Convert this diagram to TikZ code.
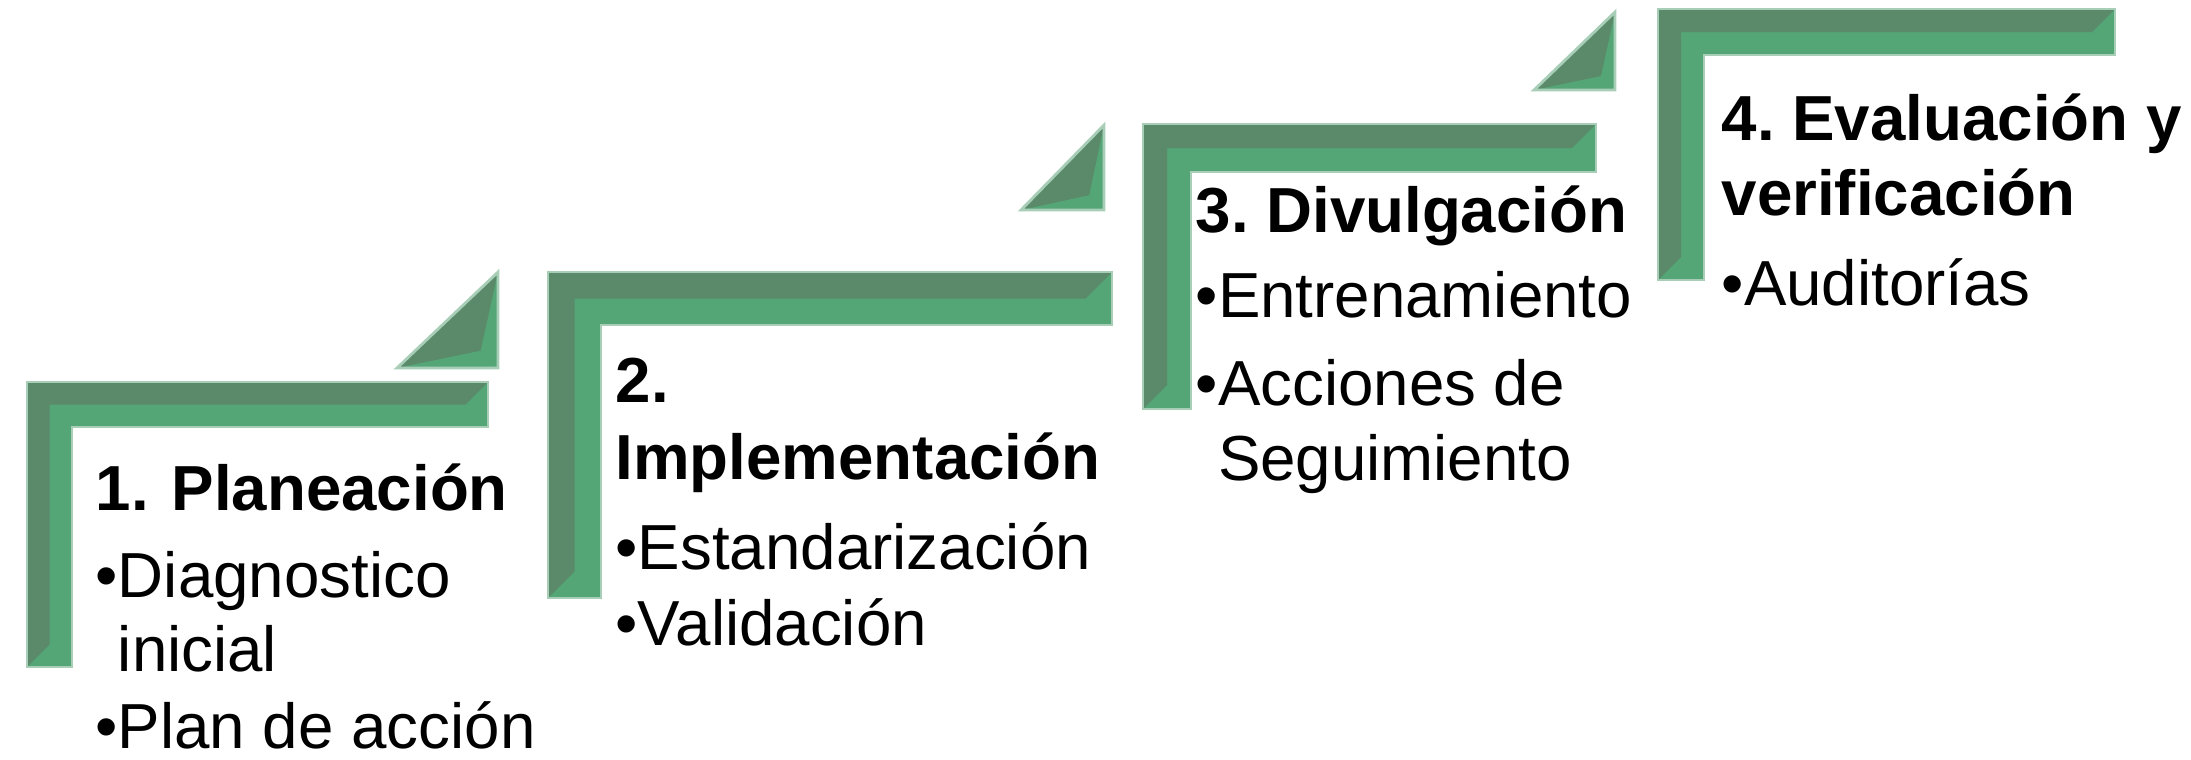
\documentclass[tikz,border=0pt]{standalone}
\usepackage{fontspec}
\setmainfont{Liberation Sans}
\definecolor{stepdark}{RGB}{90,138,106}
\definecolor{steplight}{RGB}{84,166,118}
\definecolor{stepedge}{RGB}{168,206,184}
\frenchspacing

\begin{document}
\begin{tikzpicture}[x=0.01cm,y=-0.01cm,
	txt/.style={anchor=base west, inner sep=0pt, font=\fontsize{18.1}{21}\selectfont},
	ttl/.style={txt, font=\fontsize{18.1}{21}\selectfont\bfseries},
	rim/.style={stepedge, line width=0.8pt, line join=miter}]
			\useasboundingbox (0,0) rectangle (2191,759);
			% escalones
			\foreach \l/\t/\r/\b/\g in {27/382/488/667/45, 548/272/1112/598/53, 1143/124/1596/409/48, 1658/9/2115/280/46}{
				\fill[steplight] (\l,\t) -- (\r,\t) -- (\r,\t+\g) -- (\l+\g,\t+\g) -- (\l+\g,\b) -- (\l,\b) -- cycle;
				\fill[stepdark] (\l,\t) -- (\r,\t) -- (\r-\g/2,\t+\g/2) -- (\l+\g/2,\t+\g/2) -- (\l+\g/2,\b-\g/2) -- (\l,\b) -- cycle;
				\draw[rim] (\l,\t) -- (\r,\t) -- (\r,\t+\g) -- (\l+\g,\t+\g) -- (\l+\g,\b) -- (\l,\b) -- cycle;
			}
			% triangulos
			\foreach \a/\t/\r/\b in {397/272/498/368, 1021/125/1104/210, 1534/12/1615/90}{
				\pgfmathsetmacro\ri{0.6*(\r-\a+\b-\t-veclen(\r-\a,\b-\t))/2}
				\fill[stepdark] (\a,\b) -- (\r,\t) -- (\r,\b) -- cycle;
				\fill[steplight] (\r,\t) -- (\r,\b) -- (\r-\ri,\b-\ri) -- cycle;
				\fill[steplight] (\a,\b) -- (\r,\b) -- (\r-\ri,\b-\ri) -- cycle;
				\draw[rim] (\a,\b) -- (\r,\t) -- (\r,\b) -- cycle;
			}
			% textos
			\node[ttl] (plan) at (95,510) {1.\hspace{0.36em}Planeación};
			\node[txt] (diag) at (95,597) {•Diagnostico};
			\node[txt] (inic) at (95,671) {\phantom{•}inicial};
			\node[txt] (accion) at (95,748) {•Plan de acción};
			\node[ttl] (impnum) at (615,402) {2.};
			\node[ttl] (impl) at (615,479) {Implementación};
			\node[txt] (estand) at (615,569) {•Estandarización};
			\node[txt] (valid) at (615,645) {•Validación};
			\node[ttl] (divul) at (1195,232) {3. Divulgación};
			\node[txt] (entren) at (1195,317) {•Entrenamiento};
			\node[txt] (acc) at (1195,405) {•Acciones de};
			\node[txt] (segui) at (1195,480) {\phantom{•}Seguimiento};
			\node[ttl] (eval) at (1721,140) {4. Evaluación y};
			\node[ttl] (verif) at (1721,215) {verificación};
			\node[txt] (audit) at (1721,305) {•Auditorías};
			\end{tikzpicture}
\end{document}
